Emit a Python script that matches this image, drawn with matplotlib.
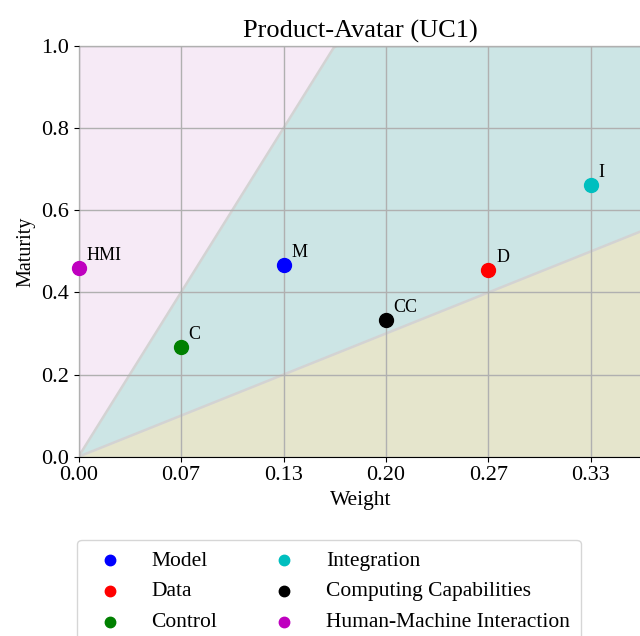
import numpy as np
import matplotlib
matplotlib.use('Agg')
import matplotlib.pyplot as plt

plt.rcParams['font.family'] = ['Liberation Serif', 'DejaVu Serif']

# dimension data
names = ['Model', 'Data', 'Control', 'Integration', 'Computing Capabilities',
         'Human-Machine Interaction']
short = ['M', 'D', 'C', 'I', 'CC', 'HMI']
weight = [2/15, 4/15, 1/15, 5/15, 3/15, 0.0]
maturity = [0.467, 0.455, 0.266, 0.662, 0.333, 0.459]
colors = ['b', 'r', 'g', 'c', 'k', 'm']

xticks = [0, 1/15, 2/15, 3/15, 4/15, 5/15]
xmax = max(weight) * 1.1

fig = plt.figure(figsize=(6.4, 6.36), dpi=100)
ax = fig.add_axes([78.5/640, 1 - 456.7/636, (xmax*1537.5)/640, 410.7/636])

# shaded zones bounded by y = 6x and y = 1.5x
xs = np.linspace(0, xmax, 200)
upper = np.minimum(6*xs, 1.0)
lower = np.minimum(1.5*xs, 1.0)
ax.fill_between(xs, upper, 1.0, color='#f6eaf6', lw=0, zorder=1)
ax.fill_between(xs, lower, upper, color='teal', alpha=0.2, lw=0, zorder=1)
ax.fill_between(xs, 0, lower, color='olive', alpha=0.2, lw=0, zorder=1)
ax.plot(xs, upper, color='lightgray', lw=1.8, zorder=1.5)
ax.plot(xs, lower, color='lightgray', lw=1.8, zorder=1.5)

for i in range(len(names)):
    ax.scatter(weight[i], maturity[i], s=100, color=colors[i], label=names[i],
               zorder=3, clip_on=False)
    ax.text(weight[i] + 0.005, maturity[i] + 0.02, short[i], fontsize=13)

ax.set_xlim(0, xmax)
ax.set_ylim(0, 1)
ax.set_xticks(xticks)
ax.set_xticklabels(['%.2f' % t for t in xticks])
ax.set_yticks(np.arange(0, 1.01, 0.2))
ax.tick_params(labelsize=16)
ax.set_axisbelow(False)
ax.grid(True, color='#b0b0b0', lw=1, zorder=2)
ax.set_xlabel('Weight', fontsize=15.5)
ax.set_ylabel('Maturity', fontsize=14.5)
ax.set_title('Product-Avatar (UC1)', fontsize=19)

fig.legend(loc='upper center', bbox_to_anchor=(329/640, 1 - 529/636), ncol=2,
           fontsize=15.5, markerscale=0.75, handletextpad=0.95, columnspacing=2.1,
           borderpad=0.5, labelspacing=0.5)

plt.savefig('out.png', dpi=100)
